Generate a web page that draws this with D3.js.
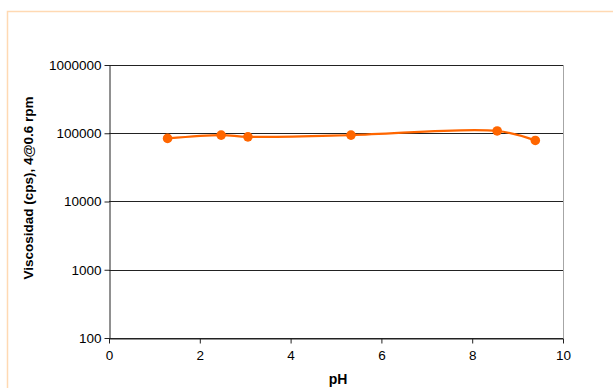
<!DOCTYPE html>
<html>
<head>
<meta charset="utf-8">
<script src="https://cdn.jsdelivr.net/npm/d3@7"></script>
<style>
  body { margin: 0; background: #fff; }
  svg { display: block; }
  svg text { font-family: "Liberation Sans", Arial, sans-serif; }
</style>
</head>
<body>
<div id="chart-area"></div>
<script>
var phValues = [1.29, 2.47, 3.06, 5.33, 8.55, 9.39];
var viscosity = [84000, 94000, 88500, 94000, 108000, 78500];
var yTicks = [100, 1000, 10000, 100000, 1000000];
var xTicks = [0, 2, 4, 6, 8, 10];

var width = 613, height = 388;
var margin = {left: 109, right: 50, top: 65, bottom: 50};

var svg = d3.select("#chart-area").append("svg")
    .attr("width", width)
    .attr("height", height);

// outer chart border
svg.append("rect")
    .attr("x", 7.5).attr("y", 11.5)
    .attr("width", 700).attr("height", 500)
    .attr("fill", "none")
    .attr("stroke", "#ffd9b3")
    .attr("stroke-width", 1.5);

var x = d3.scaleLinear()
    .domain([0, 10])
    .range([margin.left, width - margin.right]);

var y = d3.scaleLog()
    .domain([100, 1000000])
    .range([height - margin.bottom, margin.top]);

// plot area border (right side gray)
svg.append("line")
    .attr("x1", x(10) + 0.5).attr("x2", x(10) + 0.5)
    .attr("y1", y(1000000)).attr("y2", y(100))
    .attr("stroke", "#a6a6a6");

// gridlines
svg.selectAll(".grid")
    .data(yTicks)
    .enter().append("line")
    .attr("class", "grid")
    .attr("x1", x(0)).attr("x2", x(10))
    .attr("y1", d => Math.round(y(d)) + 0.5)
    .attr("y2", d => Math.round(y(d)) + 0.5)
    .attr("stroke", "#222");

var yAxis = d3.axisLeft(y)
    .tickValues(yTicks)
    .tickFormat(d3.format("d"))
    .tickSize(5)
    .tickSizeOuter(0);

svg.append("g")
    .attr("transform", "translate(" + (Math.round(x(0)) + 0.5) + ",0)")
    .call(yAxis)
    .attr("font-family", null)
    .call(g => g.select(".domain").attr("stroke", "#222"))
    .call(g => g.selectAll(".tick line").attr("stroke", "#222"))
    .call(g => g.selectAll(".tick text")
        .attr("font-size", "13.5px").attr("fill", "#000").attr("x", -8));

var xAxis = d3.axisBottom(x)
    .tickValues(xTicks)
    .tickSize(5)
    .tickSizeOuter(0);

svg.append("g")
    .attr("transform", "translate(0," + (Math.round(y(100)) + 0.5) + ")")
    .call(xAxis)
    .attr("font-family", null)
    .call(g => g.select(".domain").attr("stroke", "#222"))
    .call(g => g.selectAll(".tick line").attr("stroke", "#222"))
    .call(g => g.selectAll(".tick text")
        .attr("font-size", "13.5px").attr("fill", "#000").attr("y", 12));

// axis titles
svg.append("text")
    .attr("x", 338)
    .attr("y", 384)
    .attr("text-anchor", "middle")
    .attr("font-size", "14px")
    .attr("font-weight", "bold")
    .text("pH");

svg.append("text")
    .attr("transform", "translate(33,188) rotate(-90)")
    .attr("text-anchor", "middle")
    .attr("font-size", "13.5px")
    .attr("font-weight", "bold")
    .text("Viscosidad (cps), 4@0.6 rpm");

// series
var data = phValues.map((p, i) => ({ph: p, v: viscosity[i]}));

var line = d3.line()
    .x(d => x(d.ph))
    .y(d => y(d.v))
    .curve(d3.curveCatmullRom.alpha(0.5));

svg.append("path")
    .datum(data)
    .attr("d", line)
    .attr("fill", "none")
    .attr("stroke", "#ff6600")
    .attr("stroke-width", 2.2);

svg.selectAll(".dot")
    .data(data)
    .enter().append("circle")
    .attr("class", "dot")
    .attr("cx", d => x(d.ph))
    .attr("cy", d => y(d.v))
    .attr("r", 4.8)
    .attr("fill", "#ff6600");
</script>
</body>
</html>
